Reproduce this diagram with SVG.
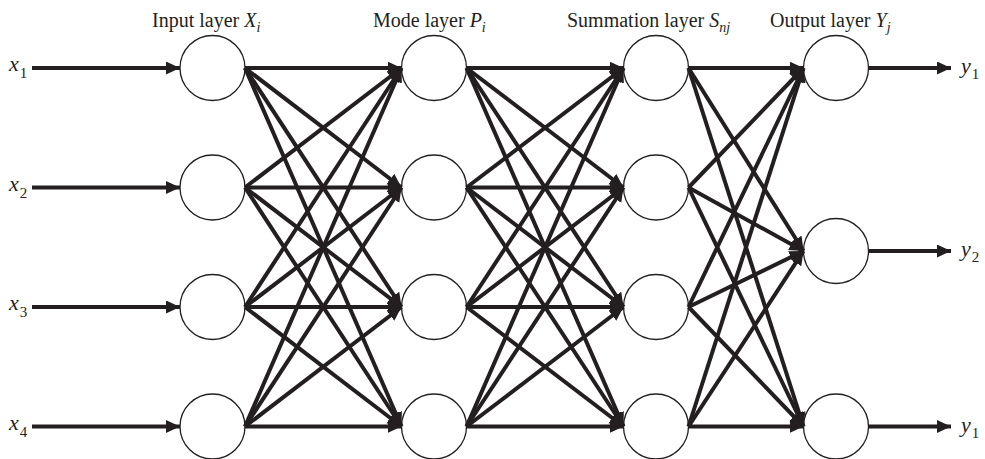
<svg xmlns="http://www.w3.org/2000/svg" width="985" height="459" viewBox="0 0 985 459">
<style>
.n{fill:#fff;stroke:#231f20;stroke-width:1.3}
.c line{stroke:#231f20;stroke-width:4;marker-end:url(#ah)}
.t{font-family:"Liberation Serif","Times New Roman",serif;font-size:20px;fill:#231f20}
.v{font-size:22px}
.i{font-style:italic}
.s{font-size:14px}
.vs{font-size:15px}
</style>
<defs>
<marker id="ah" markerUnits="userSpaceOnUse" markerWidth="16" markerHeight="14" refX="14" refY="6.5" orient="auto"><path d="M0,0 L14,6.5 L0,13 z" fill="#231f20"/></marker>
</defs>
<g id="titles">
<text class="t" x="152" y="27">Input layer <tspan class="i">X</tspan><tspan class="i s" dy="5">i</tspan></text>
<text class="t" x="373" y="27">Mode layer <tspan class="i">P</tspan><tspan class="i s" dy="5">i</tspan></text>
<text class="t" x="567" y="27">Summation layer <tspan class="i">S</tspan><tspan class="i s" dy="5">nj</tspan></text>
<text class="t" x="770" y="27">Output layer <tspan class="i">Y</tspan><tspan class="i s" dy="5">j</tspan></text>
</g>
<g id="labels">
<text class="t v" x="9" y="71"><tspan class="i">x</tspan><tspan class="vs" dx="1" dy="7">1</tspan></text>
<text class="t v" x="9" y="190.5"><tspan class="i">x</tspan><tspan class="vs" dx="1" dy="7">2</tspan></text>
<text class="t v" x="9" y="310"><tspan class="i">x</tspan><tspan class="vs" dx="1" dy="7">3</tspan></text>
<text class="t v" x="9" y="429.5"><tspan class="i">x</tspan><tspan class="vs" dx="1" dy="7">4</tspan></text>
<text class="t v" x="961" y="73"><tspan class="i">y</tspan><tspan class="vs" dx="1" dy="6">1</tspan></text>
<text class="t v" x="961" y="256"><tspan class="i">y</tspan><tspan class="vs" dx="1" dy="6">2</tspan></text>
<text class="t v" x="961" y="431.5"><tspan class="i">y</tspan><tspan class="vs" dx="1" dy="6">1</tspan></text>
</g>
<g id="input-layer">
<circle id="in1" class="n" cx="212.5" cy="68" r="32.5"/>
<circle id="in2" class="n" cx="212.5" cy="187.5" r="32.5"/>
<circle id="in3" class="n" cx="212.5" cy="307" r="32.5"/>
<circle id="in4" class="n" cx="212.5" cy="426.5" r="32.5"/>
</g>
<g id="mode-layer">
<circle id="m1" class="n" cx="434" cy="68" r="32.5"/>
<circle id="m2" class="n" cx="434" cy="187.5" r="32.5"/>
<circle id="m3" class="n" cx="434" cy="307" r="32.5"/>
<circle id="m4" class="n" cx="434" cy="426.5" r="32.5"/>
</g>
<g id="summation-layer">
<circle id="s1" class="n" cx="656" cy="68" r="32.5"/>
<circle id="s2" class="n" cx="656" cy="187.5" r="32.5"/>
<circle id="s3" class="n" cx="656" cy="307" r="32.5"/>
<circle id="s4" class="n" cx="656" cy="426.5" r="32.5"/>
</g>
<g id="output-layer">
<circle id="o1" class="n" cx="836" cy="68" r="32.5"/>
<circle id="o2" class="n" cx="836" cy="251" r="32.5"/>
<circle id="o3" class="n" cx="836" cy="426.5" r="32.5"/>
</g>
<g id="connectors" class="c">
<line x1="32" y1="68" x2="180" y2="68"/>
<line x1="32" y1="187.5" x2="180" y2="187.5"/>
<line x1="32" y1="307" x2="180" y2="307"/>
<line x1="32" y1="426.5" x2="180" y2="426.5"/>

<line x1="245" y1="68" x2="401.5" y2="68"/>
<line x1="245" y1="68" x2="401.5" y2="187.5"/>
<line x1="245" y1="68" x2="401.5" y2="307"/>
<line x1="245" y1="68" x2="401.5" y2="426.5"/>
<line x1="245" y1="187.5" x2="401.5" y2="68"/>
<line x1="245" y1="187.5" x2="401.5" y2="187.5"/>
<line x1="245" y1="187.5" x2="401.5" y2="307"/>
<line x1="245" y1="187.5" x2="401.5" y2="426.5"/>
<line x1="245" y1="307" x2="401.5" y2="68"/>
<line x1="245" y1="307" x2="401.5" y2="187.5"/>
<line x1="245" y1="307" x2="401.5" y2="307"/>
<line x1="245" y1="307" x2="401.5" y2="426.5"/>
<line x1="245" y1="426.5" x2="401.5" y2="68"/>
<line x1="245" y1="426.5" x2="401.5" y2="187.5"/>
<line x1="245" y1="426.5" x2="401.5" y2="307"/>
<line x1="245" y1="426.5" x2="401.5" y2="426.5"/>

<line x1="466.5" y1="68" x2="623.5" y2="68"/>
<line x1="466.5" y1="68" x2="623.5" y2="187.5"/>
<line x1="466.5" y1="68" x2="623.5" y2="307"/>
<line x1="466.5" y1="68" x2="623.5" y2="426.5"/>
<line x1="466.5" y1="187.5" x2="623.5" y2="68"/>
<line x1="466.5" y1="187.5" x2="623.5" y2="187.5"/>
<line x1="466.5" y1="187.5" x2="623.5" y2="307"/>
<line x1="466.5" y1="187.5" x2="623.5" y2="426.5"/>
<line x1="466.5" y1="307" x2="623.5" y2="68"/>
<line x1="466.5" y1="307" x2="623.5" y2="187.5"/>
<line x1="466.5" y1="307" x2="623.5" y2="307"/>
<line x1="466.5" y1="307" x2="623.5" y2="426.5"/>
<line x1="466.5" y1="426.5" x2="623.5" y2="68"/>
<line x1="466.5" y1="426.5" x2="623.5" y2="187.5"/>
<line x1="466.5" y1="426.5" x2="623.5" y2="307"/>
<line x1="466.5" y1="426.5" x2="623.5" y2="426.5"/>

<line x1="688.5" y1="68" x2="803.5" y2="68"/>
<line x1="688.5" y1="68" x2="803.5" y2="251"/>
<line x1="688.5" y1="68" x2="803.5" y2="426.5"/>
<line x1="688.5" y1="187.5" x2="803.5" y2="68"/>
<line x1="688.5" y1="187.5" x2="803.5" y2="251"/>
<line x1="688.5" y1="187.5" x2="803.5" y2="426.5"/>
<line x1="688.5" y1="307" x2="803.5" y2="68"/>
<line x1="688.5" y1="307" x2="803.5" y2="251"/>
<line x1="688.5" y1="307" x2="803.5" y2="426.5"/>
<line x1="688.5" y1="426.5" x2="803.5" y2="68"/>
<line x1="688.5" y1="426.5" x2="803.5" y2="251"/>
<line x1="688.5" y1="426.5" x2="803.5" y2="426.5"/>

<line x1="868.5" y1="68" x2="951" y2="68"/>
<line x1="868.5" y1="251" x2="951" y2="251"/>
<line x1="868.5" y1="426.5" x2="951" y2="426.5"/>
</g>
</svg>
